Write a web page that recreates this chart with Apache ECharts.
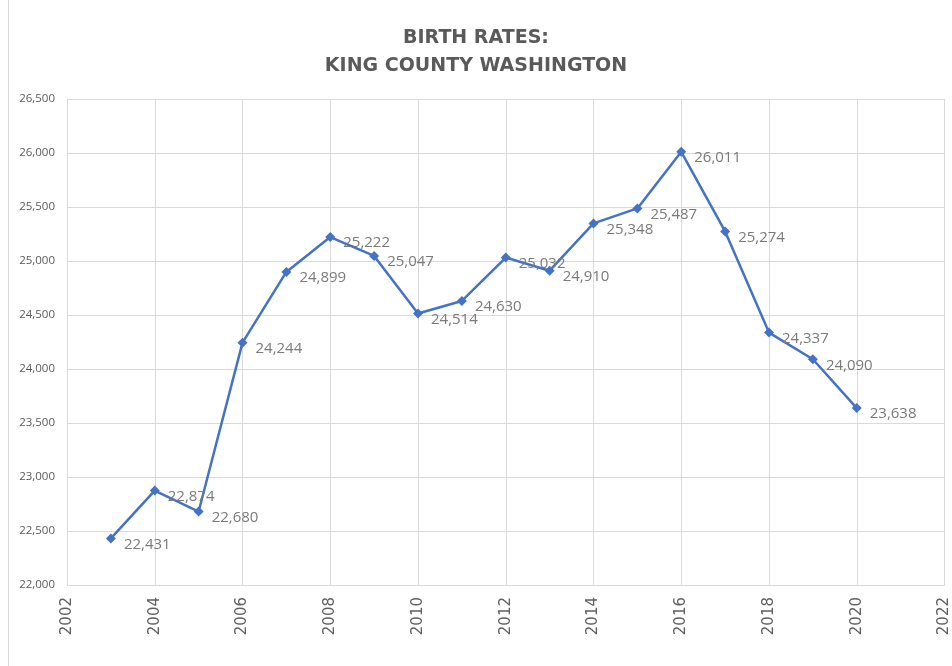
<!DOCTYPE html>
<html>
<head>
<meta charset="utf-8">
<script src="https://cdn.jsdelivr.net/npm/echarts@6/dist/echarts.min.js"></script>
<style>
html,body{margin:0;padding:0;background:#fff;}
#c{width:952px;height:666px;}
</style>
</head>
<body>
<div id="c"></div>
<script>
const years = [2003,2004,2005,2006,2007,2008,2009,2010,2011,2012,2013,2014,2015,2016,2017,2018,2019,2020];
const births = [22431,22874,22680,24244,24899,25222,25047,24514,24630,25032,24910,25348,25487,26011,25274,24337,24090,23638];
const titleLines = ['BIRTH RATES:', 'KING COUNTY WASHINGTON'];

const chart = echarts.init(document.getElementById('c'));
const fmt = v => v.toLocaleString('en-US');
chart.setOption({
  animation: false,
  backgroundColor: '#fff',
  title: {
    text: titleLines.join('\n'),
    left: 'center',
    top: 19,
    textStyle: {
      fontFamily: 'DejaVu Sans',
      fontWeight: 'bold',
      fontSize: 19,
      color: '#5a5a5a',
      lineHeight: 28
    }
  },
  graphic: [{
    type: 'line',
    shape: {x1: 8.5, y1: 0, x2: 8.5, y2: 666},
    style: {stroke: '#d9d9d9', lineWidth: 1}
  }],
  grid: {left: 67, right: 5, top: 99, bottom: 81},
  xAxis: {
    type: 'value',
    min: 2002, max: 2022, interval: 2,
    axisLine: {show: true, lineStyle: {color: '#d9d9d9'}},
    axisTick: {show: false},
    splitLine: {show: true, lineStyle: {color: '#d9d9d9'}},
    axisLabel: {
      rotate: 90,
      margin: 12,
      fontFamily: 'DejaVu Sans',
      fontSize: 15,
      color: '#5f5f5f',
      formatter: v => String(v)
    }
  },
  yAxis: {
    type: 'value',
    min: 22000, max: 26500, interval: 500,
    axisLine: {show: true, lineStyle: {color: '#d9d9d9'}},
    axisTick: {show: false},
    splitLine: {show: true, lineStyle: {color: '#d9d9d9'}},
    axisLabel: {
      margin: 12,
      fontFamily: 'Open Sans',
      fontSize: 11.5,
      color: '#595959',
      formatter: v => fmt(v)
    }
  },
  series: [{
    type: 'line',
    data: years.map((y, i) => [y, births[i]]),
    symbol: 'diamond',
    symbolSize: 10,
    showAllSymbol: true,
    lineStyle: {color: '#4472C4', width: 2.5},
    itemStyle: {color: '#4472C4'},
    label: {
      show: true,
      position: 'right',
      distance: 8,
      offset: [0, 6],
      fontFamily: 'Open Sans',
      fontSize: 15,
      color: '#7a7a7a',
      formatter: p => fmt(p.value[1])
    }
  }]
});
</script>
</body>
</html>
